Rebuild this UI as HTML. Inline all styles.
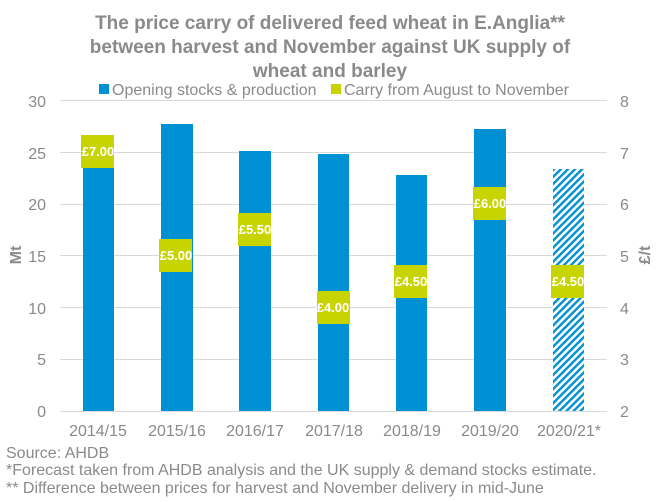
<!DOCTYPE html>
<html><head><meta charset="utf-8"><style>
html,body{margin:0;padding:0;background:#fff}
svg{display:block;font-family:"Liberation Sans",Arial,sans-serif}
</style></head><body>
<svg width="656" height="502" viewBox="0 0 656 502" xmlns="http://www.w3.org/2000/svg">
<defs>
<pattern id="h" width="5" height="5" patternUnits="userSpaceOnUse" patternTransform="rotate(45)">
<rect width="5" height="5" fill="#fff"/><rect width="2.4" height="5" fill="#0090d4"/>
</pattern>
</defs>
<g font-weight="bold" fill="#8a8a8a" font-size="19" text-anchor="middle">
<text x="330" y="29">The price carry of delivered feed wheat in E.Anglia**</text>
<text x="330" y="53">between harvest and November against UK supply of</text>
<text x="330" y="77">wheat and barley</text>
</g>
<rect x="99" y="84" width="10" height="10" fill="#0090d4"/>
<text x="112" y="95" font-size="16" fill="#8a8a8a">Opening stocks &amp; production</text>
<rect x="331" y="84" width="10" height="10" fill="#c8d400"/>
<text x="344" y="95" font-size="16" fill="#8a8a8a">Carry from August to November</text>
<g stroke="#d9d9d9" stroke-width="1">
<line x1="60" x2="607" y1="100.5" y2="100.5"/>
<line x1="60" x2="607" y1="152.5" y2="152.5"/>
<line x1="60" x2="607" y1="204.5" y2="204.5"/>
<line x1="60" x2="607" y1="255.5" y2="255.5"/>
<line x1="60" x2="607" y1="307.5" y2="307.5"/>
<line x1="60" x2="607" y1="359.5" y2="359.5"/>
<line x1="60" x2="607" y1="411.5" y2="411.5"/>
</g>
<g font-size="16" fill="#8a8a8a" text-anchor="end">
<text x="46" y="107">30</text><text x="46" y="159">25</text><text x="46" y="210">20</text>
<text x="46" y="262">15</text><text x="46" y="314">10</text><text x="46" y="365">5</text><text x="46" y="417">0</text>
</g>
<g font-size="16" fill="#8a8a8a">
<text x="620" y="107">8</text><text x="620" y="159">7</text><text x="620" y="210">6</text>
<text x="620" y="262">5</text><text x="620" y="314">4</text><text x="620" y="365">3</text><text x="620" y="417">2</text>
</g>
<text transform="translate(21,255) rotate(-90)" font-size="16" font-weight="bold" fill="#8a8a8a" text-anchor="middle">Mt</text>
<text transform="translate(650,255) rotate(-90)" font-size="16" font-weight="bold" fill="#8a8a8a" text-anchor="middle">£/t</text>
<g fill="#0090d4">
<rect x="83" y="135" width="31" height="276"/>
<rect x="161" y="124" width="32" height="287"/>
<rect x="239" y="151" width="32" height="260"/>
<rect x="318" y="154" width="31" height="257"/>
<rect x="396" y="175" width="31" height="236"/>
<rect x="474" y="129" width="32" height="282"/>
</g>
<rect x="553" y="169" width="31" height="242" fill="url(#h)"/>
<g fill="#c8d400">
<rect x="81" y="135" width="33" height="33"/>
<rect x="159" y="239" width="33" height="33"/>
<rect x="238" y="213" width="33" height="33"/>
<rect x="317" y="291" width="33" height="33"/>
<rect x="394" y="265" width="33" height="33"/>
<rect x="473" y="187" width="33" height="33"/>
<rect x="551" y="265" width="33" height="33"/>
</g>
<g font-size="13" font-weight="bold" fill="#fff" text-anchor="middle">
<text x="98" y="156">£7.00</text>
<text x="176" y="260">£5.00</text>
<text x="255" y="234">£5.50</text>
<text x="333" y="312">£4.00</text>
<text x="411" y="286">£4.50</text>
<text x="490" y="208">£6.00</text>
<text x="568" y="286">£4.50</text>
</g>
<g font-size="16" fill="#8a8a8a" text-anchor="middle">
<text x="98" y="436">2014/15</text><text x="177" y="436">2015/16</text><text x="255" y="436">2016/17</text>
<text x="334" y="436">2017/18</text><text x="412" y="436">2018/19</text><text x="490" y="436">2019/20</text>
<text x="569" y="436">2020/21*</text>
</g>
<g font-size="16" fill="#8a8a8a">
<text x="6" y="458">Source: AHDB</text>
<text x="6" y="475">*Forecast taken from AHDB analysis and the UK supply &amp; demand stocks estimate.</text>
<text x="6" y="493">** Difference between prices for harvest and November delivery in mid-June</text>
</g>
</svg>
</body></html>
